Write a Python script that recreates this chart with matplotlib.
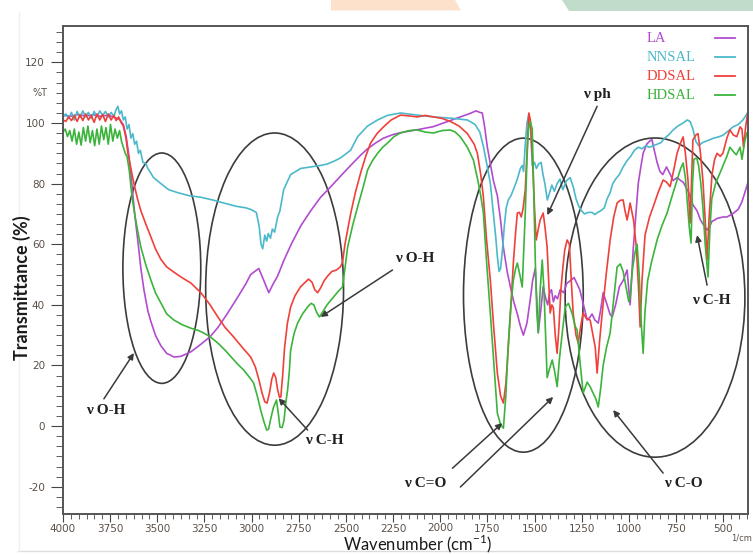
import matplotlib
matplotlib.use("Agg")
import matplotlib.pyplot as plt
from matplotlib.patches import Ellipse, Polygon
from matplotlib.lines import Line2D
from matplotlib.ticker import MultipleLocator

plt.rcParams["axes.unicode_minus"] = False

# ---- data: (wavenumber cm-1, transmittance %) ----
la = [(4000, 102.6), (3960, 102.2), (3920, 102.8), (3880, 102.3), (3840, 102.7), (3800, 102.2),
      (3760, 102.6), (3725, 101.8), (3700, 101.2), (3680, 99.5), (3665, 95.5), (3650, 89),
      (3635, 80), (3620, 70), (3603, 61), (3587, 52), (3571, 45), (3550, 38), (3534, 34.5),
      (3510, 30), (3481, 26.5), (3450, 24), (3412, 22.8), (3375, 23), (3322, 24.5), (3269, 27),
      (3220, 29.5), (3179, 32.5), (3130, 37), (3074, 42.5), (3030, 47), (3005, 50), (2962, 52),
      (2935, 48), (2909, 44), (2885, 47), (2862, 49.5), (2830, 54.5), (2790, 60), (2740, 66),
      (2687, 71), (2634, 75.5), (2580, 79), (2528, 82.5), (2475, 86), (2420, 89.5), (2385, 91.5),
      (2340, 93.5), (2301, 95), (2250, 96.2), (2211, 96.8), (2120, 97.8), (2036, 98.8),
      (1960, 100.5), (1893, 102), (1840, 103.2), (1810, 104), (1790, 103.5), (1777, 103.3),
      (1765, 99), (1750, 92), (1730, 85), (1718, 81), (1697, 76), (1680, 68), (1665, 59),
      (1645, 51), (1628, 46), (1610, 41), (1591, 37), (1575, 33), (1559, 30), (1540, 34),
      (1522, 42), (1510, 48), (1496, 52), (1488, 42), (1480, 31), (1467, 38), (1454, 46),
      (1440, 42), (1430, 40), (1420, 44), (1410, 45), (1400, 41), (1390, 43), (1378, 42),
      (1364, 45), (1345, 44), (1330, 47), (1310, 48), (1290, 49), (1275, 47), (1260, 45),
      (1240, 40), (1221, 35), (1205, 36), (1195, 37), (1180, 35), (1162, 34), (1150, 38),
      (1136, 44), (1115, 40), (1100, 37), (1088, 36), (1070, 40), (1050, 46), (1030, 48),
      (1009, 51.5), (993, 40), (977, 58), (960, 72), (950, 80), (935, 86), (924, 90), (905, 93),
      (890, 94), (877, 94.5), (865, 91), (850, 87), (835, 84), (820, 83), (800, 85.5), (780, 83),
      (765, 81), (744, 82), (725, 81), (712, 80.5), (690, 78), (675, 76), (660, 73), (638, 71),
      (620, 68), (600, 66), (585, 64.7), (570, 66), (560, 67.5), (545, 68), (532, 68.5),
      (500, 69), (480, 69), (450, 70), (420, 71.5), (400, 74), (380, 78), (370, 80)]

nnsal = [(4000, 102), (3985, 103), (3970, 101.5), (3955, 103.5), (3940, 101), (3925, 103.8),
         (3910, 101.8), (3895, 104), (3880, 102), (3865, 103.5), (3850, 101.5), (3835, 103.8),
         (3820, 102), (3805, 104), (3790, 102.5), (3775, 103.8), (3760, 102), (3745, 103.5),
         (3730, 102.2), (3718, 104.5), (3709, 105.5), (3700, 103), (3690, 104), (3680, 101),
         (3670, 102), (3660, 98), (3650, 99.5), (3640, 95), (3630, 96.5), (3620, 93), (3610, 94),
         (3600, 90), (3590, 91), (3576, 87), (3560, 86.5), (3550, 85), (3520, 82), (3481, 80),
         (3440, 78), (3391, 77), (3330, 76), (3269, 75.5), (3200, 74.5), (3148, 73.6),
         (3080, 72.5), (3030, 72), (3005, 71.5), (2975, 70.5), (2960, 66), (2950, 60),
         (2941, 58.5), (2930, 63), (2920, 61), (2912, 63.5), (2900, 62), (2890, 65), (2878, 64),
         (2862, 69), (2850, 71), (2830, 78), (2793, 83), (2740, 85), (2687, 85.5), (2634, 86),
         (2597, 86.5), (2560, 87.5), (2528, 88.5), (2475, 91), (2438, 95.5), (2385, 99),
         (2332, 101), (2280, 102.5), (2211, 103.3), (2121, 102.6), (2036, 102), (1946, 101.6),
         (1856, 101), (1815, 99.5), (1790, 97), (1770, 92), (1750, 85.5), (1734, 80), (1718, 70),
         (1705, 62), (1697, 56), (1688, 51), (1680, 52), (1670, 58), (1660, 66), (1650, 72),
         (1639, 74.6), (1625, 76), (1612, 78), (1600, 80), (1591, 81.5), (1575, 85), (1565, 86),
         (1558, 84), (1550, 92), (1540, 100), (1530, 103), (1522, 99), (1512, 86), (1500, 87),
         (1490, 85), (1478, 86.5), (1465, 87), (1455, 83), (1445, 80), (1432, 74.6), (1420, 77),
         (1408, 79.5), (1395, 77.5), (1380, 80), (1365, 81.5), (1350, 78), (1330, 81),
         (1311, 82), (1295, 79), (1280, 75), (1265, 72.5), (1250, 71), (1235, 70), (1215, 70.5),
         (1195, 70.5), (1180, 69.8), (1165, 70.5), (1150, 71), (1130, 72), (1115, 75), (1099, 77),
         (1085, 80), (1070, 81.5), (1050, 83), (1030, 85.5), (1010, 87.5), (990, 89), (970, 91),
         (950, 92), (930, 91.5), (910, 92.5), (890, 92), (870, 92.5), (850, 93), (830, 93.5),
         (810, 95), (790, 96), (765, 97.7), (740, 99), (712, 100), (690, 101), (675, 100.5),
         (660, 98), (645, 94), (630, 92.5), (610, 93.5), (590, 94), (570, 94.5), (550, 95),
         (520, 95.5), (500, 96), (470, 97.5), (448, 98.7), (420, 99.5), (395, 101), (370, 103.3)]

ddsal = [(4000, 101), (3985, 100.5), (3970, 102), (3955, 100.8), (3940, 102.5), (3925, 100.5),
         (3910, 102.8), (3895, 100.8), (3880, 103), (3865, 101), (3850, 102.5), (3835, 100.2),
         (3820, 103), (3805, 101), (3790, 102.8), (3775, 100.5), (3760, 103), (3745, 101),
         (3730, 102.5), (3718, 100.8), (3705, 102), (3693, 100.3), (3680, 99), (3666, 95),
         (3656, 90), (3640, 85), (3624, 80), (3605, 75), (3587, 71), (3560, 66.5), (3534, 62.4),
         (3510, 58.5), (3481, 55), (3450, 52.5), (3412, 50.8), (3370, 49), (3322, 47.2),
         (3269, 44), (3220, 40), (3179, 36), (3140, 32.5), (3095, 29.4), (3050, 26), (3005, 22.8),
         (2980, 19.5), (2960, 15), (2945, 11), (2930, 8), (2918, 7.6), (2905, 11), (2893, 15.5),
         (2883, 17.5), (2872, 16), (2862, 12), (2852, 9.5), (2845, 9.6), (2835, 17), (2825, 26),
         (2810, 34), (2793, 39.3), (2770, 43), (2740, 46), (2715, 47.5), (2698, 48.5),
         (2680, 47.5), (2665, 45), (2650, 44), (2635, 45.5), (2615, 48), (2597, 49.5),
         (2575, 51), (2550, 51.5), (2530, 52.5), (2518, 54), (2505, 60), (2490, 65), (2475, 70),
         (2450, 77), (2422, 83.5), (2395, 89), (2369, 93.4), (2335, 96.5), (2301, 98.7),
         (2260, 101), (2211, 102.6), (2160, 102.3), (2121, 102), (2080, 102.5), (2036, 102),
         (1990, 101.5), (1946, 100.5), (1900, 99), (1856, 96.5), (1820, 93), (1803, 90),
         (1785, 83), (1771, 75.6), (1755, 62), (1734, 48), (1718, 34), (1697, 17.5), (1680, 10),
         (1665, 7.6), (1652, 14), (1639, 26), (1625, 40), (1612, 54), (1600, 64), (1591, 70.3),
         (1580, 70.5), (1570, 69), (1560, 72), (1549, 78), (1540, 90), (1530, 103.3),
         (1522, 101), (1512, 90), (1500, 72), (1491, 61.4), (1480, 65), (1470, 68), (1454, 70.3),
         (1445, 66), (1433, 59), (1425, 48), (1417, 37.3), (1408, 40), (1400, 39), (1390, 30),
         (1380, 24), (1370, 33), (1360, 45), (1350, 52), (1340, 58), (1327, 61.4), (1315, 60),
         (1305, 48), (1295, 37.3), (1280, 30), (1268, 27.4), (1255, 33), (1242, 37.3),
         (1225, 35.5), (1205, 35), (1190, 30), (1178, 26), (1168, 17.5), (1155, 28),
         (1141, 37.3), (1120, 50), (1099, 61.4), (1080, 69), (1062, 73.6), (1045, 74.5),
         (1030, 74.6), (1020, 71), (1009, 68), (1000, 71), (993, 73.6), (975, 68), (960, 59),
         (948, 45), (940, 32.7), (930, 48), (914, 63), (890, 69), (871, 72.3), (845, 77),
         (818, 81.2), (800, 80.5), (781, 79), (760, 85), (744, 90), (725, 93.5), (712, 95.4),
         (700, 90), (686, 81), (675, 67), (668, 80), (660, 94.4), (645, 96), (633, 96.5),
         (620, 90), (607, 81), (595, 68), (585, 54.8), (575, 68), (559, 83), (545, 88), (532, 90),
         (515, 89), (501, 90), (480, 95), (464, 97.7), (445, 96), (427, 95.5), (410, 98.7),
         (400, 98), (392, 92), (380, 99), (370, 103.3)]

hdsal = [(4000, 97), (3988, 98), (3976, 95.5), (3964, 97.5), (3952, 94), (3940, 98), (3928, 93),
         (3916, 97), (3904, 92.7), (3892, 98.5), (3880, 94), (3868, 99), (3856, 93.5),
         (3844, 97.5), (3832, 92.5), (3820, 98), (3808, 93), (3796, 99), (3784, 94.5),
         (3772, 98.5), (3760, 93), (3748, 99.5), (3736, 94), (3724, 98), (3712, 95), (3700, 97.5),
         (3690, 94), (3680, 92), (3670, 90), (3660, 88.8), (3648, 84), (3640, 79), (3630, 74),
         (3620, 70), (3603, 64), (3587, 59), (3560, 53), (3534, 48.2), (3510, 44), (3481, 40.6),
         (3450, 37), (3412, 35), (3370, 33.5), (3322, 32.3), (3280, 31.5), (3254, 30.7),
         (3220, 29.5), (3179, 27.4), (3140, 25), (3111, 23), (3075, 20.5), (3042, 18.5),
         (3010, 16), (2989, 14.2), (2970, 10), (2952, 5.3), (2935, 1.5), (2920, -1.3),
         (2910, -1), (2900, 2), (2885, 6), (2868, 8.6), (2858, 4), (2850, -0.3), (2838, -0.5),
         (2828, 2), (2818, 8), (2809, 12), (2800, 18), (2793, 25), (2775, 30.5), (2756, 34),
         (2730, 37), (2703, 39.3), (2685, 40.5), (2670, 40), (2655, 37.5), (2640, 36),
         (2625, 37.5), (2600, 40), (2565, 42.6), (2540, 44.5), (2518, 45.9), (2505, 52),
         (2491, 59), (2465, 66), (2438, 72.3), (2410, 78.5), (2385, 84.5), (2360, 87.5),
         (2332, 90), (2305, 92), (2279, 93.4), (2245, 95.5), (2211, 96.7), (2165, 97.5),
         (2121, 97.7), (2080, 97), (2036, 96.7), (1990, 97.5), (1946, 97.7), (1920, 97),
         (1893, 95.4), (1856, 92), (1824, 87.8), (1800, 81), (1785, 76), (1771, 70.3),
         (1755, 55), (1734, 37), (1715, 20), (1697, 4.3), (1680, 0.5), (1665, -0.7), (1652, 10),
         (1640, 26), (1625, 40), (1612, 48.2), (1600, 52), (1591, 53.8), (1578, 50),
         (1565, 45.9), (1557, 58), (1549, 70.3), (1540, 88), (1533, 97.7), (1522, 100.5),
         (1512, 98), (1505, 80), (1496, 55), (1488, 38), (1480, 30.7), (1470, 45), (1459, 54.8),
         (1450, 45), (1443, 33), (1433, 16), (1420, 19), (1406, 21.8), (1393, 18), (1380, 13),
         (1368, 22), (1353, 30.7), (1337, 39.3), (1320, 40.5), (1300, 37), (1285, 33),
         (1274, 31.7), (1260, 22), (1242, 10.9), (1230, 13), (1221, 14.5), (1205, 13),
         (1190, 11), (1175, 9), (1162, 6.3), (1150, 12), (1136, 20), (1118, 26), (1099, 30.7),
         (1080, 42), (1062, 52.5), (1045, 53.5), (1030, 51), (1015, 46), (1000, 41),
         (993, 42.6), (980, 52), (968, 57), (956, 60), (945, 50), (935, 35), (924, 24),
         (914, 38), (900, 48), (880, 54), (850, 61.4), (825, 66), (797, 70.3), (770, 76),
         (744, 81.2), (725, 85), (712, 86.8), (700, 82), (690, 74), (680, 66), (670, 60.4),
         (662, 80), (655, 88), (640, 88.5), (630, 86), (618, 80), (607, 72), (595, 60),
         (580, 49.2), (570, 65), (560, 75), (540, 80), (517, 83.5), (500, 86), (480, 89),
         (464, 92), (445, 90.5), (430, 89.5), (410, 92), (400, 88), (385, 94), (374, 96.7),
         (370, 97)]

names = ["LA", "NNSAL", "DDSAL", "HDSAL"]
colors = ["#b24ccf", "#4cb9ca", "#f0403a", "#3cb43c"]
series = [la, nnsal, ddsal, hdsal]

xticks = list(range(4000, 499, -250))
yticks = list(range(-20, 121, 20))

# ellipses: centre wavenumber, centre %T, width cm-1, height %T
ellipses = [(3476, 52.1, 413, 76), (2878, 45.2, 731, 103),
            (1559, 43.2, 635, 103.6), (861, 42.4, 953, 105.3)]

# labels: text, x, y ; arrows: tail -> head
labels = [("ν O-H", 3772, 5.0), ("ν C-H", 2613, -4.6), ("ν O-H", 2137, 55.4),
          ("ν ph", 1168, 109.4), ("ν C-H", 565, 41.6), ("ν C=O", 2078, -18.8),
          ("ν C-O", 712, -18.8)]
arrows = [((3783, 9.0), (3624, 24.1)), ((2703, -1.3), (2857, 9.2)),
          ((2253, 51.5), (2634, 36.0)), ((1168, 105.5), (1432, 69.6)),
          ((585, 46.5), (638, 63.0)), ((1935, -13.9), (1671, 1.0)),
          ((1893, -20.1), (1401, 9.6)), ((818, -15.5), (1083, 5.3))]

fig = plt.figure(figsize=(7.53, 5.54), dpi=100)
W, H = 753, 554

# faint page decoration
fig.patches.append(Polygon([(331/W, 1), (455/W, 1), (461/W, 1-10.5/H), (331/W, 1-10.5/H)],
                           closed=True, transform=fig.transFigure, fc="#fde1cb", ec="none"))
fig.patches.append(Polygon([(562/W, 1), (1, 1), (1, 1-11/H), (569/W, 1-11/H)],
                           closed=True, transform=fig.transFigure, fc="#c1dccb", ec="none"))
fig.add_artist(Line2D([18/W, 1], [1-551/H, 1-551/H], color="#dcdcdc", lw=1))
fig.add_artist(Line2D([19/W, 19/W], [1-12/H, 1-551/H], color="#f0f0f0", lw=1))

ax = fig.add_axes([63/W, 40/H, 685/W, 488/H])

for data, c in zip(series, colors):
    x, y = zip(*data)
    ax.plot(x, y, color=c, lw=1.2)

for cx, cy, w, h in ellipses:
    ax.add_patch(Ellipse((cx, cy), w, h, fill=False, ec="#3c3c3c", lw=1.2))

for (t0, t1) in arrows:
    ax.annotate("", xy=t1, xytext=t0,
                arrowprops=dict(arrowstyle="-|>", color="#3a3a3a", lw=1.1,
                                mutation_scale=9, shrinkA=0, shrinkB=0))
for txt, x, y in labels:
    ax.text(x, y, txt, ha="center", va="center", fontsize=11, fontweight="bold",
            family="Liberation Serif", color="#202020")

# legend written as text like the original
for i, (n, c) in enumerate(zip(names, colors)):
    yy = 0.975 - i * 0.039
    ax.text(0.852, yy, n, transform=ax.transAxes, color=c, fontsize=10.5,
            family="Liberation Serif", va="center", ha="left")
    ax.plot([0.952, 0.981], [yy, yy], transform=ax.transAxes, color=c, lw=1.3)

ax.set_xlim(4000, 368)
ax.set_ylim(-29, 132)
ax.set_xticks(xticks)
ax.set_xticklabels(["" if v == 2000 else str(v) for v in xticks])
ax.set_yticks(yticks)
ax.xaxis.set_minor_locator(MultipleLocator(250 / 6))
ax.yaxis.set_minor_locator(MultipleLocator(20 / 6))
ax.tick_params(axis="both", which="both", direction="out", color="#444444",
               labelcolor="#5a5048", labelsize=7.5)
ax.tick_params(axis="x", which="major", length=6, pad=1)
ax.tick_params(axis="x", which="minor", length=3.5)
ax.tick_params(axis="y", which="major", length=9, pad=4)
ax.tick_params(axis="y", which="minor", length=5)
for s in ax.spines.values():
    s.set_color("#555555")
    s.set_linewidth(1.4)

# odd bits of the instrument axis
ax.text(2000, -0.018, "2000", transform=ax.get_xaxis_transform(), ha="center", va="top",
        fontsize=7.5, color="#5a5048")
ax.text(402, -0.04, "1/cm", transform=ax.get_xaxis_transform(), ha="center", va="top",
        fontsize=6, color="#5a5048")
ax.text(-0.034, 110, "%T", transform=ax.get_yaxis_transform(), ha="center", va="center",
        fontsize=7, color="#5a5048")

fig.text(22/W, 1-288/H, "Transmittance (%)", rotation=90, ha="center", va="center",
         fontsize=13, fontweight="bold", family=["Lato", "DejaVu Sans"], color="#1a1a1a")
fig.text(418/W, 1-544/H, r"Wavenumber (cm$^{\mathregular{-1}}$)", ha="center", va="center",
         fontsize=12, family=["Lato", "DejaVu Sans"], color="#1a1a1a")

fig.savefig("out.png", dpi=100, facecolor="white")
